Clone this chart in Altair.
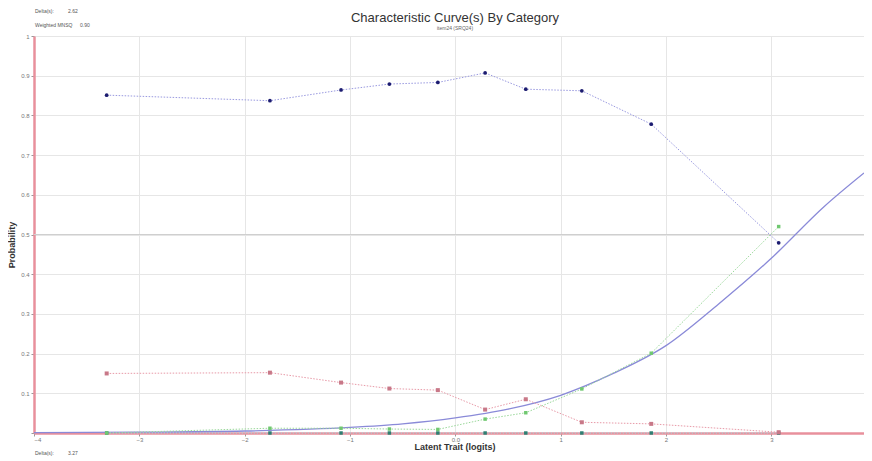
import altair as alt
import pandas as pd

# ---- data ----
theta = [-3.31, -1.76, -1.085, -0.626, -0.166, 0.283, 0.669, 1.201, 1.86, 3.07]
cat0 = [0.851, 0.837, 0.864, 0.879, 0.883, 0.907, 0.866, 0.862, 0.778, 0.479]
cat1 = [0.150, 0.152, 0.127, 0.112, 0.108, 0.059, 0.085, 0.027, 0.023, 0.002]
cat2 = [0.000, 0.012, 0.012, 0.010, 0.009, 0.035, 0.051, 0.111, 0.201, 0.520]
cat3 = [0.0, 0.0, 0.0, 0.0, 0.0, 0.0, 0.0, 0.0, 0.0, 0.0]

curve_x = [-4.0, -3.0, -2.0, -1.0, -0.5, 0.0, 0.5, 1.0, 1.5, 2.0, 2.5, 3.0, 3.5, 3.88]
curve_y = [0.001, 0.002, 0.005, 0.014, 0.023, 0.038, 0.06, 0.095, 0.15, 0.22, 0.325, 0.44, 0.57, 0.655]

x_ticks = [-4, -3, -2, -1, 0, 1, 2, 3]
y_ticks = [0, 0.1, 0.2, 0.3, 0.4, 0.5, 0.6, 0.7, 0.8, 0.9, 1.0]

title_text = "Characteristic Curve(s) By Category"
subtitle_text = "item24 (SRQ24)"
x_title = "Latent Trait (logits)"
y_title = "Probability"

W, H = 830, 397
XMIN, XMAX = -4, 3.88

obs = pd.DataFrame({"theta": theta, "c0": cat0, "c1": cat1, "c2": cat2, "c3": cat3})
curve = pd.DataFrame({"x": curve_x, "y": curve_y})

xs = alt.Scale(domain=[XMIN, XMAX], nice=False, zero=False)
ys = alt.Scale(domain=[0, 1], nice=False)

xaxis = alt.Axis(values=x_ticks, title=None, grid=True, gridColor="#e6e6e6",
                 domainColor="#e8909c", domainWidth=2.5, tickColor="#999", tickSize=3,
                 labelFontSize=6, labelColor="#777", labelPadding=0,
                 labelFont="Liberation Sans", labelOverlap=False,
                 labelExpr="datum.value == 0 ? '0.0' : format(datum.value, 'd')")
yaxis = alt.Axis(values=y_ticks, title=None, grid=True, gridColor="#e6e6e6",
                 domainColor="#e8909c", domainWidth=2.5, tickColor="#999", tickSize=3,
                 labelFontSize=6, labelColor="#777", labelPadding=2,
                 labelFont="Liberation Sans", labelOverlap=False,
                 labelExpr="datum.value == 0 ? '' : (datum.value == 1 ? '1' : format(datum.value, '.1f'))")

def X(f):
    return alt.X(f, scale=xs, axis=xaxis)

def Y(f):
    return alt.Y(f, scale=ys, axis=yaxis)

base = alt.Chart(obs)

axes_layer = alt.Chart(pd.DataFrame({"x": [XMIN], "y": [0.0]})).mark_point(opacity=0).encode(
    x=X("x:Q"), y=Y("y:Q"))

mid_rule = alt.Chart(pd.DataFrame({"y": [0.5]})).mark_rule(color="#cfcfcf", strokeWidth=1).encode(
    y=Y("y:Q"))

model = alt.Chart(curve).mark_line(color="#8a8ad8", strokeWidth=1.3, interpolate="monotone").encode(
    x=X("x:Q"), y=Y("y:Q"))

def series(field, line_color, pt_color, shape, size):
    ln = base.mark_line(color=line_color, strokeWidth=1, strokeDash=[1.5, 1.5]).encode(
        x=X("theta:Q"), y=Y(f"{field}:Q"))
    pt = base.mark_point(color=pt_color, filled=True, opacity=1, shape=shape, size=size).encode(
        x=X("theta:Q"), y=Y(f"{field}:Q"))
    return [ln, pt]

layers = [axes_layer, mid_rule, model]
layers += series("c3", "#9fd8e0", "#2e7f72", "square", 12)
layers += series("c1", "#e89aa8", "#c87888", "square", 16)
layers += series("c2", "#9ad89a", "#70c870", "square", 12)
layers += series("c0", "#9a9ae0", "#1c1c70", "circle", 14)

one = pd.DataFrame({"a": [0]})

def txt(s, x, y, size=6, bold=False, color="#555", align="left", angle=0):
    kw = dict(fontSize=size, color=color, align=align, baseline="middle",
              font="Liberation Sans", fontWeight="bold" if bold else "normal")
    if angle:
        kw["angle"] = angle
    return alt.Chart(one).mark_text(**kw).encode(
        x=alt.value(x), y=alt.value(y), text=alt.value(s))

layers += [
    txt(title_text, 421, -18, size=13, color="#333", align="center"),
    txt(subtitle_text, 421, -8, size=5, color="#666", align="center"),
    txt("Delta(s):", 1, -25, size=5),
    txt("2.62", 34, -25, size=5),
    txt("Weighted MNSQ", 1, -11, size=5),
    txt("0.90", 46, -11, size=5),
    txt("Delta(s):", 1, 417, size=5),
    txt("3.27", 34, 417, size=5),
    txt(x_title, 421, 14 + H, size=9, bold=True, color="#333", align="center"),
    txt(y_title, -22, 209, size=9, bold=True, color="#333", align="center", angle=270),
]

chart = alt.layer(*layers).properties(
    width=W, height=H,
    autosize=alt.AutoSizeParams(type="none"),
    padding={"left": 26, "top": 28, "right": 0, "bottom": 28},
).configure_view(stroke=None).configure(background="white")

chart.save("out.html", embed_options={"renderer": "svg", "actions": False})
